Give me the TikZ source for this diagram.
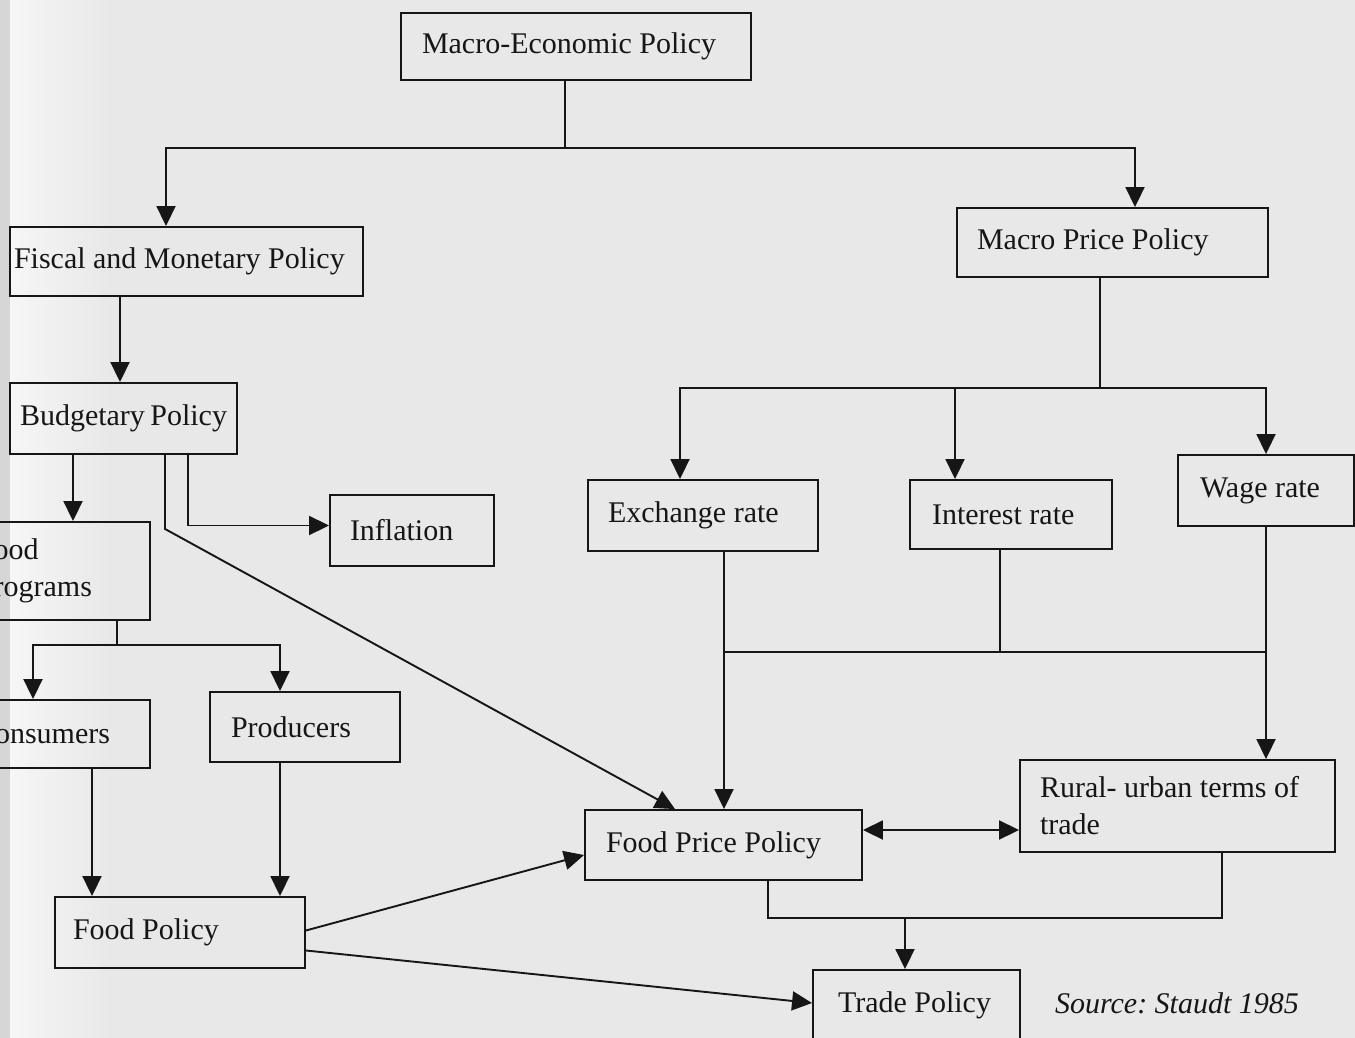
\documentclass[tikz,border=0pt]{standalone}
\usepackage{fontspec}
\setmainfont{Liberation Serif}
\usetikzlibrary{arrows.meta}
\definecolor{ink}{HTML}{161616}
\definecolor{paper}{HTML}{E8E8E8}
\definecolor{edge}{HTML}{D6D6D6}
\definecolor{glare}{HTML}{F6F6F6}
\tikzset{
  box/.style={rectangle, draw=ink, line width=1.9pt, align=left, text=ink,
              inner sep=2pt, execute at begin node={\spaceskip=0pt\xspaceskip=0pt}},
  fl/.style={-{Triangle[length=20pt,width=19pt]}, draw=ink, line width=1.9pt},
  flb/.style={{Triangle[length=20pt,width=19pt]}-{Triangle[length=20pt,width=19pt]},
              draw=ink, line width=1.9pt},
  ln/.style={draw=ink, line width=1.9pt},
  src/.style={font=\fontsize{30}{36}\selectfont\itshape, text=ink}
}

\begin{document}
\begin{tikzpicture}[x=1pt, y=-1pt, font=\fontsize{30}{37}\selectfont]
  \useasboundingbox (0,0) rectangle (1355,1038);
  \clip (0,0) rectangle (1355,1038);
  % scanned page
  \fill[paper] (0,0) rectangle (1355,1038);
  \shade[left color=glare, right color=paper] (10,0) rectangle (110,1038);
  \fill[edge] (0,0) rectangle (10,1038);

  % boxes
  \node[box, minimum width=350, minimum height=67, text width=308] (macro) at (576,46.5) {Macro-Economic Policy};
  \node[box, minimum width=353, minimum height=69, text width=345] (fiscal) at (186.5,261.5) {Fiscal and Monetary Policy};
  \node[box, minimum width=311, minimum height=69, text width=271] (mprice) at (1112.5,242.5) {Macro Price Policy};
  \node[box, minimum width=227, minimum height=71, text width=207] (budget) at (123.5,418.5) {Budgetary Policy};
  \node[box, minimum width=164, minimum height=71, text width=124] (inflation) at (412,530.5) {Inflation};
  \node[box, minimum width=200, minimum height=98, text width=146] (foodprog) at (50,571) {Food\\Programs};
  \node[box, minimum width=200, minimum height=68, text width=150] (consumers) at (50,734) {Consumers};
  \node[box, minimum width=190, minimum height=70, text width=148] (producers) at (305,727) {Producers};
  \node[box, minimum width=250, minimum height=71, text width=214] (foodpolicy) at (180,932.5) {Food Policy};
  \node[box, minimum width=230, minimum height=71, text width=190] (exchange) at (703,515.5) {Exchange rate};
  \node[box, minimum width=202, minimum height=69, text width=158] (interest) at (1011,514.5) {Interest rate};
  \node[box, minimum width=176, minimum height=71, text width=132] (wage) at (1266,490.5) {Wage rate};
  \node[box, minimum width=277, minimum height=70, text width=235] (foodprice) at (723.5,845) {Food Price Policy};
  \node[box, minimum width=315, minimum height=92, text width=275] (rural) at (1177.5,806) {Rural- urban terms of\\trade};
  \node[box, minimum width=207, minimum height=70, text width=157] (trade) at (916.5,1005) {Trade Policy};
  \node[src] (source) at (1177,1003) {Source:\ Staudt 1985};

  % junctions
  \coordinate (jtop) at (565,148);
  \coordinate (jfp) at (117,645);
  \coordinate (jmp) at (1100,388);
  \coordinate (jr) at (1000,652);
  \coordinate (jtr) at (905,918);

  % macro-economic split
  \draw[ln] (macro.south -| jtop) -- (jtop);
  \draw[fl] (jtop) -| ([xshift=-20.5pt]fiscal.north);
  \draw[fl] (jtop) -| ([xshift=22.5pt]mprice.north);

  % left branch
  \draw[fl] ([xshift=-3.5pt]budget.north |- fiscal.south) -- ([xshift=-3.5pt]budget.north);
  \draw[fl] ([xshift=-50.5pt]budget.south) -- ([xshift=-50.5pt]budget.south |- foodprog.north);
  \draw[fl] ([xshift=64.5pt]budget.south) |- ([yshift=5pt]inflation.west);
  \draw[fl] ([xshift=41.5pt]budget.south) -- ++(0,74) -- ([xshift=-48.5pt]foodprice.north);
  \draw[ln] (foodprog.south -| jfp) -- (jfp);
  \draw[fl] (jfp) -| ([xshift=-17pt]consumers.north);
  \draw[fl] (jfp) -| ([xshift=-25pt]producers.north);
  \draw[fl] ([xshift=42pt]consumers.south) -- ([xshift=42pt]consumers.south |- foodpolicy.north);
  \draw[fl] ([xshift=-25pt]producers.south) -- ([xshift=-25pt]producers.south |- foodpolicy.north);
  \draw[fl] ([yshift=2pt]foodpolicy.east) -- ([yshift=-10pt]foodprice.west);
  \draw[fl] ([yshift=-18pt]foodpolicy.east) -- ([yshift=2pt]trade.west);

  % right branch
  \draw[ln] ([xshift=-12.5pt]mprice.south) -- (jmp);
  \draw[fl] (jmp) -| ([xshift=-23pt]exchange.north);
  \draw[fl] (jmp) -| ([xshift=-56pt]interest.north);
  \draw[fl] (jmp) -| (wage.north);
  \draw[fl] ([xshift=0.5pt]foodprice.north |- exchange.south) -- ([xshift=0.5pt]foodprice.north);
  \draw[ln] (interest.south -| jr) -- (jr);
  \draw[ln] (foodprice.north |- jr) -- (wage.south |- jr);
  \draw[fl] (wage.south) -- (wage.south |- rural.north);
  \draw[flb] ([yshift=15pt]foodprice.east) -- ([yshift=15pt]foodprice.east -| rural.west);
  \draw[ln] ([xshift=44.5pt]foodprice.south) |- (jtr) -| ([xshift=44.5pt]rural.south);
  \draw[fl] (jtr) -- (jtr |- trade.north);
\end{tikzpicture}
\end{document}
